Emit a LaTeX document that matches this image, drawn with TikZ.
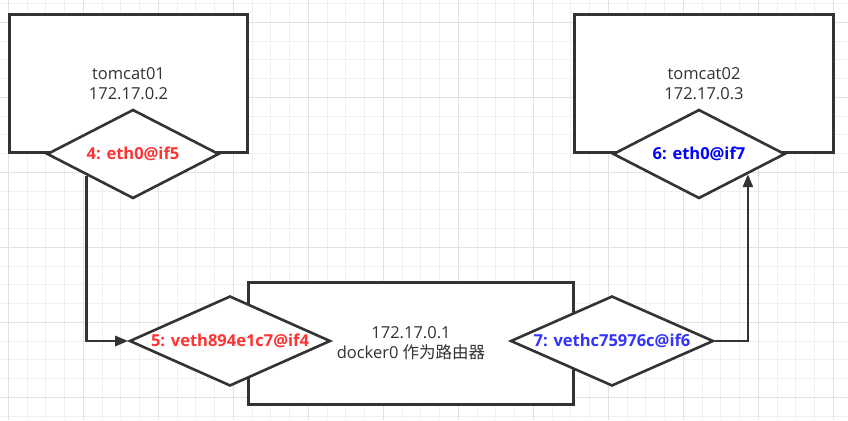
\documentclass[tikz,border=0pt]{standalone}
\usepackage{fontspec}
\setmainfont{Open Sans}[BoldFont={Open Sans Bold}]
\newfontfamily\cjk{Noto Sans CJK SC}
\usetikzlibrary{shapes.geometric,arrows.meta,calc}

\definecolor{linegray}{RGB}{51,51,51}
\definecolor{gridminor}{RGB}{240,240,240}
\definecolor{gridmajor}{RGB}{225,225,225}
\definecolor{portred}{RGB}{255,51,51}
\definecolor{portblue}{RGB}{0,0,255}
\definecolor{portblue2}{RGB}{51,51,255}

\begin{document}
\begin{tikzpicture}[x=1pt, y=-1pt, >={Triangle[length=13pt, width=10pt]},
    host/.style={draw=linegray, line width=2.6pt, fill=white, align=center,
        text=linegray, font=\fontsize{16.5}{20}\selectfont},
    port/.style={diamond, draw=linegray, line width=2.6pt, fill=white,
        inner sep=0pt, shape aspect=2.3, font=\fontsize{16.5}{18}\selectfont\bfseries},
    wire/.style={draw=linegray, line width=2.6pt}]

    \useasboundingbox (0,0) rectangle (848,420);

    % background grid
    \foreach \k in {0,...,44}{
        \draw[gridminor, line width=1pt] ({8.3+18.75*\k},0) -- ({8.3+18.75*\k},420);
    }
    \foreach \k in {-1,...,21}{
        \draw[gridminor, line width=1pt] (0,{22.3+18.75*\k}) -- (848,{22.3+18.75*\k});
    }
    \foreach \k in {0,...,11}{
        \draw[gridmajor, line width=1pt] ({8.3+75*\k},0) -- ({8.3+75*\k},420);
    }
    \foreach \k in {0,...,5}{
        \draw[gridmajor, line width=1pt] (0,{22.3+75*\k}) -- (848,{22.3+75*\k});
    }

    % containers and router
    \node[host, minimum width=238pt, minimum height=138pt] (tomcat1) at (128.5,83.5) {tomcat01\\172.17.0.2};
    \node[host, minimum width=259pt, minimum height=138pt] (tomcat2) at (704,83.5) {tomcat02\\172.17.0.3};
    \node[host, minimum width=325pt, minimum height=122pt] (docker0) at (411,343.5) {172.17.0.1\\docker0 {\cjk 作为路由器}};

    % interfaces
    \node[port, text=portred, minimum width=172pt, minimum height=89pt] (eth1) at (133,154) {4: eth0@if5};
    \node[port, text=portblue, minimum width=172pt, minimum height=89pt] (eth2) at (699,154) {6: eth0@if7};
    \node[port, text=portred, minimum width=201pt, minimum height=90pt] (veth1) at (230,341) {5: veth894e1c7@if4};
    \node[port, text=portblue2, minimum width=203pt, minimum height=90pt] (veth2) at (612,341) {7: vethc75976c@if6};

    % links
    \draw[wire, ->] ($(eth1.south)!0.53!(eth1.west)$) |- (veth1.west);
    \draw[wire, ->] (veth2.east) -| ($(eth2.south)!0.56!(eth2.east)$);

\end{tikzpicture}
\end{document}
